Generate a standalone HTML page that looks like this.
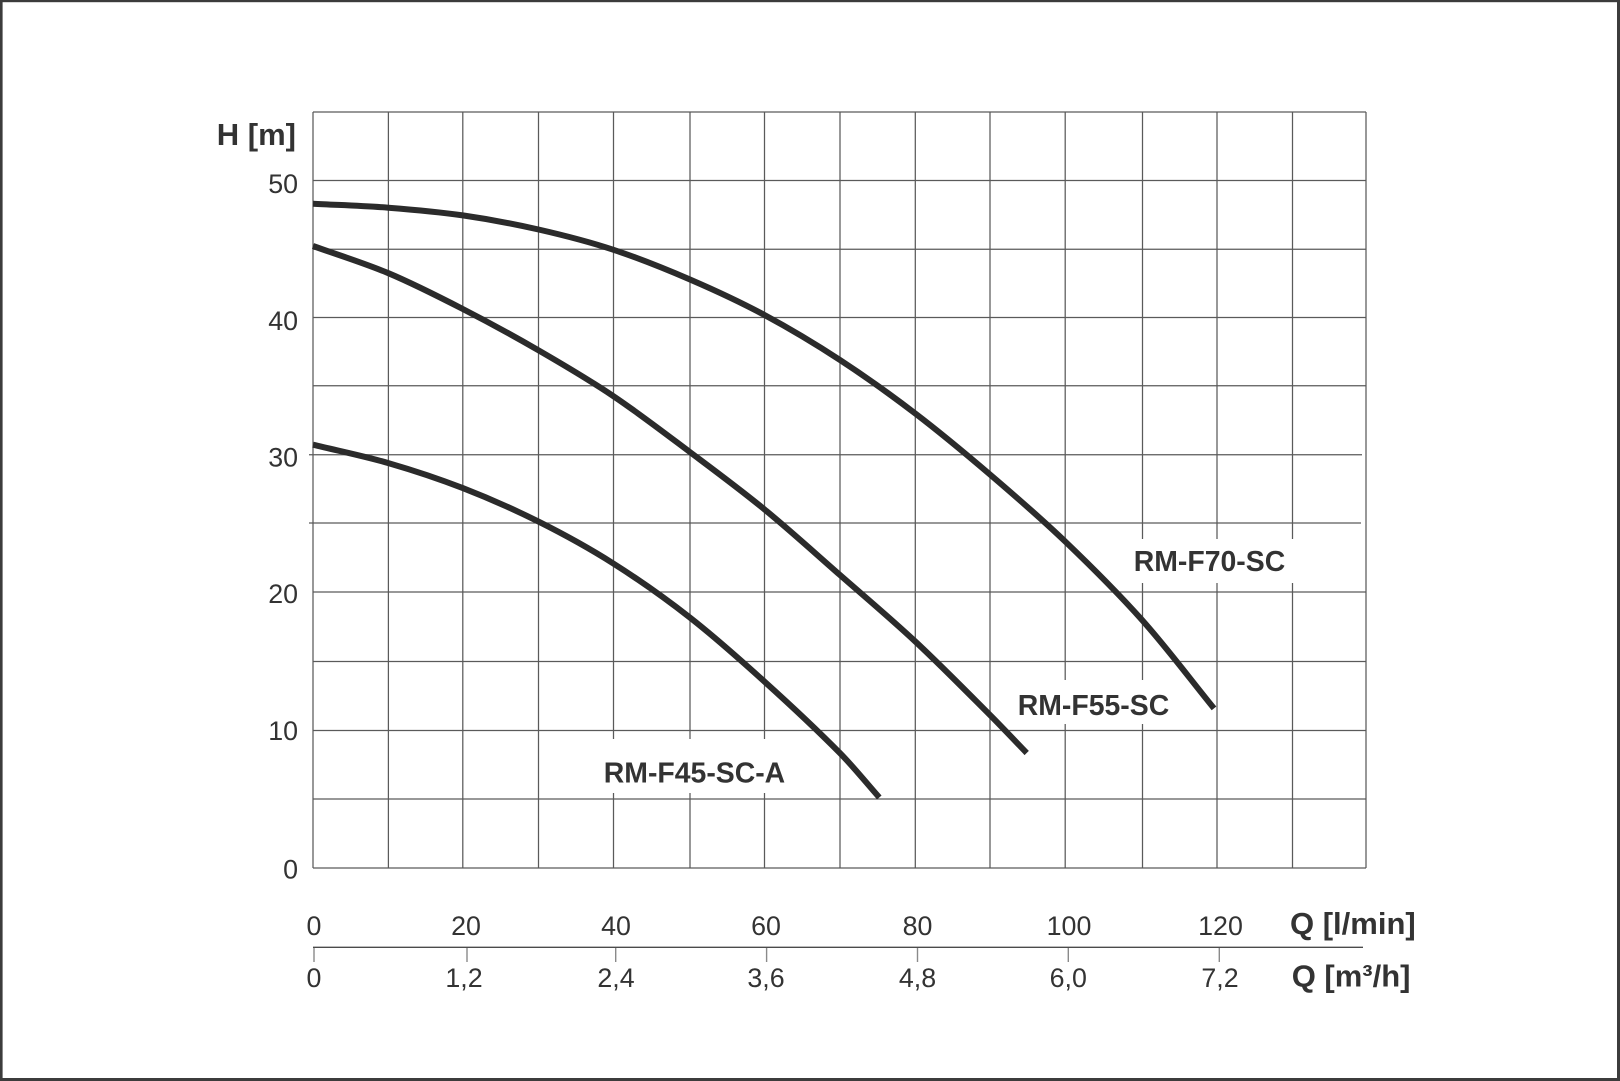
<!DOCTYPE html>
<html>
<head>
<meta charset="utf-8">
<style>
  html, body { margin: 0; padding: 0; background: #ffffff; }
  body { width: 1620px; height: 1081px; overflow: hidden; }
  svg { display: block; }
  text { font-family: "Liberation Sans", Arial, sans-serif; fill: #333333; }
  .tick { font-size: 26.8px; }
  .title { font-size: 31px; font-weight: bold; }
  .lbl { font-size: 28.4px; font-weight: bold; }
</style>
</head>
<body>
<svg width="1620" height="1081" viewBox="0 0 1620 1081" xmlns="http://www.w3.org/2000/svg">
  <rect x="0" y="0" width="1620" height="1081" fill="#ffffff"/>
  <!-- outer border -->
  <rect x="0" y="0" width="1620" height="2.2" fill="#3c3c3c"/>
  <rect x="0" y="0" width="2.6" height="1081" fill="#3c3c3c"/>
  <rect x="1617" y="0" width="3" height="1081" fill="#3c3c3c"/>
  <rect x="0" y="1078" width="1620" height="3" fill="#3c3c3c"/>

  <!-- grid -->
  <g stroke="#5a5a5a" stroke-width="1.25" fill="none">
    <line x1="313" y1="112" x2="313" y2="868"/>
    <line x1="388.4" y1="112" x2="388.4" y2="868"/>
    <line x1="462.8" y1="112" x2="462.8" y2="868"/>
    <line x1="538.5" y1="112" x2="538.5" y2="868"/>
    <line x1="613.5" y1="112" x2="613.5" y2="868"/>
    <line x1="690" y1="112" x2="690" y2="868"/>
    <line x1="764.5" y1="112" x2="764.5" y2="868"/>
    <line x1="840" y1="112" x2="840" y2="868"/>
    <line x1="915.3" y1="112" x2="915.3" y2="868"/>
    <line x1="990" y1="112" x2="990" y2="868"/>
    <line x1="1065.2" y1="112" x2="1065.2" y2="868"/>
    <line x1="1142.5" y1="112" x2="1142.5" y2="868"/>
    <line x1="1217" y1="112" x2="1217" y2="868"/>
    <line x1="1292.5" y1="112" x2="1292.5" y2="868"/>
    <line x1="1366" y1="112" x2="1366" y2="868"/>
    <line x1="313" y1="112" x2="1366" y2="112"/>
    <line x1="313" y1="180.5" x2="1366" y2="180.5"/>
    <line x1="313" y1="249.3" x2="1366" y2="249.3"/>
    <line x1="313" y1="317.5" x2="1366" y2="317.5"/>
    <line x1="313" y1="385.8" x2="1366" y2="385.8"/>
    <line x1="309" y1="454.8" x2="1362" y2="454.8"/>
    <line x1="309" y1="523" x2="1361" y2="523"/>
    <line x1="313" y1="592" x2="1366" y2="592"/>
    <line x1="313" y1="661.5" x2="1366" y2="661.5"/>
    <line x1="313" y1="730.5" x2="1366" y2="730.5"/>
    <line x1="313" y1="799" x2="1366" y2="799"/>
    <line x1="313" y1="868" x2="1366" y2="868"/>
  </g>

  <!-- label backgrounds -->
  <rect x="1078" y="539" width="250" height="44" fill="#ffffff"/>
  <rect x="1000" y="680" width="200" height="44" fill="#ffffff"/>
  <rect x="565" y="739" width="235" height="54" fill="#ffffff"/>

  <!-- curves -->
  <g stroke="#2b2b2b" stroke-width="6" fill="none" stroke-linejoin="round" stroke-linecap="butt">
    <!-- RM-F70-SC -->
    <path d="M313,203.7 C338.13,205.03 363.43,205.75 388.4,207.7 C413.37,209.65 437.78,211.77 462.8,215.4 C487.82,219.03 513.38,223.77 538.5,229.5 C563.62,235.23 588.25,241.47 613.5,249.8 C638.75,258.13 664.83,268.63 690,279.5 C715.17,290.37 739.5,301.58 764.5,315 C789.5,328.42 814.87,343.58 840,360 C865.13,376.42 890.3,394.42 915.3,413.5 C940.3,432.58 965.02,453.17 990,474.5 C1014.98,495.83 1039.78,517.17 1065.2,541.5 C1090.62,565.83 1117.7,592.68 1142.5,620.5 C1167.3,648.32 1190.17,679.1 1214,708.4"/>
    <!-- RM-F55-SC -->
    <path d="M313,246 C338.13,255.07 363.43,262.7 388.4,273.2 C413.37,283.7 437.78,296.15 462.8,309 C487.82,321.85 513.38,335.77 538.5,350.3 C563.62,364.83 588.25,379.23 613.5,396.2 C638.75,413.17 664.83,433.23 690,452.1 C715.17,470.97 739.5,488.92 764.5,509.4 C789.5,529.88 814.87,552.98 840,575 C865.13,597.02 890.3,618.17 915.3,641.5 C940.3,664.83 965.1,690.1 990,715 C1002.23,727.23 1014.47,740.33 1026.7,753"/>
    <!-- RM-F45-SC-A -->
    <path d="M313,444.7 C338.13,450.83 363.43,455.87 388.4,463.1 C413.37,470.33 437.78,478.35 462.8,488.1 C487.82,497.85 513.38,509.02 538.5,521.6 C563.62,534.18 588.25,547.6 613.5,563.6 C638.75,579.6 664.83,597.93 690,617.6 C715.17,637.27 739.5,659.02 764.5,681.6 C789.5,704.18 814.83,727.69 840,753.1 C853.1,766.33 866.2,782.7 879.3,797.5"/>
  </g>

  <!-- curve labels -->
  <text class="lbl" x="1209.5" y="571" text-anchor="middle">RM-F70-SC</text>
  <text class="lbl" x="1093.5" y="715" text-anchor="middle">RM-F55-SC</text>
  <text class="lbl" x="694.5" y="782.7" text-anchor="middle">RM-F45-SC-A</text>

  <!-- Y axis -->
  <text class="title" x="296" y="145" text-anchor="end">H [m]</text>
  <g text-anchor="end">
    <text class="tick" x="298" y="193">50</text>
    <text class="tick" x="298" y="330">40</text>
    <text class="tick" x="298" y="466.5">30</text>
    <text class="tick" x="298" y="603">20</text>
    <text class="tick" x="298" y="740">10</text>
    <text class="tick" x="298" y="878.5">0</text>
  </g>

  <!-- X axes -->
  <line x1="313" y1="947.3" x2="1363" y2="947.3" stroke="#4a4a4a" stroke-width="1.4"/>
  <g stroke="#8a8a8a" stroke-width="1.4">
    <line x1="314" y1="948" x2="314" y2="962"/>
    <line x1="467" y1="948" x2="467" y2="962"/>
    <line x1="615.7" y1="948" x2="615.7" y2="962"/>
    <line x1="766.6" y1="948" x2="766.6" y2="962"/>
    <line x1="917.5" y1="948" x2="917.5" y2="962"/>
    <line x1="1068.3" y1="948" x2="1068.3" y2="962"/>
    <line x1="1219.3" y1="948" x2="1219.3" y2="962"/>
  </g>
  <g text-anchor="middle">
    <text class="tick" x="314" y="935">0</text>
    <text class="tick" x="466" y="935">20</text>
    <text class="tick" x="616" y="935">40</text>
    <text class="tick" x="766" y="935">60</text>
    <text class="tick" x="917.5" y="935">80</text>
    <text class="tick" x="1069" y="935">100</text>
    <text class="tick" x="1220.5" y="935">120</text>

    <text class="tick" x="314" y="987">0</text>
    <text class="tick" x="464" y="987">1,2</text>
    <text class="tick" x="616" y="987">2,4</text>
    <text class="tick" x="766" y="987">3,6</text>
    <text class="tick" x="917.5" y="987">4,8</text>
    <text class="tick" x="1068.3" y="987">6,0</text>
    <text class="tick" x="1220" y="987">7,2</text>
  </g>
  <text class="title" x="1290" y="934">Q [l/min]</text>
  <text class="title" x="1291.7" y="986.7">Q [m³/h]</text>
</svg>
</body>
</html>
